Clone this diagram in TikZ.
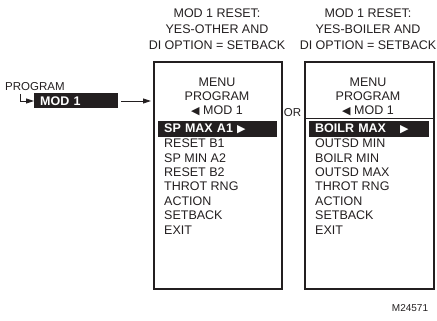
\documentclass[tikz,border=0pt]{standalone}
\usepackage{fontspec}
\setmainfont{Liberation Sans}
\newfontfamily\symf{DejaVu Sans}
\usetikzlibrary{arrows.meta}
\definecolor{ink}{HTML}{231F20}
\newcommand{\tril}{{\symf\fontsize{11}{11}\selectfont ◀}}
\newcommand{\trir}{{\symf\fontsize{11}{11}\selectfont ▶}}
\begin{document}
\begin{tikzpicture}[x=1pt,y=-1pt,
  every node/.style={inner sep=0pt, text=ink},
  txt/.style={font=\fontsize{12.5}{16}\selectfont},
  hdr/.style={txt, align=center},
  item/.style={txt, anchor=base west},
  menubox/.style={draw=ink, line width=2.4pt, anchor=north west},
  hibar/.style={fill=ink, text=white, font=\fontsize{12.5}{16}\selectfont\bfseries,
     anchor=west, minimum height=16pt, inner xsep=6pt, align=left},
  arr/.style={draw=ink, line width=0.9pt, -{Triangle[length=8pt,width=5pt]}},
  thin/.style={draw=ink, line width=0.9pt}
]
\useasboundingbox (0,0) rectangle (437,321);

% headers
\node[hdr] (h1) at (217,29) {MOD 1 RESET:\\YES-OTHER AND\\DI OPTION = SETBACK};
\node[hdr] (h2) at (368,29) {MOD 1 RESET:\\YES-BOILER AND\\DI OPTION = SETBACK};

% boxes
\node[menubox, minimum width=128pt, minimum height=227pt] (lbox) at (153,61) {};
\node[menubox, minimum width=129pt, minimum height=227pt] (rbox) at (304,61) {};

% left entry
\node[font=\fontsize{11.5}{14}\selectfont, anchor=base west] (prog) at (5,91) {PROGRAM};
\node[hibar, text width=72pt, minimum height=15pt] (modbar) at (34,101) {MOD 1};
\coordinate (elb) at (20,94);
\draw[arr] (elb) |- (modbar.west);
\draw[arr, shorten >=2pt] ([xshift=3pt]modbar.east) -- (modbar.east -| lbox.west);

% left box content
\node[hdr] (lm1) at (217,82) {MENU};
\node[hdr] (lm2) at (217,96) {PROGRAM};
\node[hdr] (lm3) at (217,110.5) {\tril\ MOD 1};
\node[hibar, text width=107pt] (lhi) at (158,129) {SP MAX A1 \trir};
\node[item] (l2) at (164,147.5) {RESET B1};
\node[item] (l3) at (164,162) {SP MIN A2};
\node[item] (l4) at (164,176.4) {RESET B2};
\node[item] (l5) at (164,190.8) {THROT RNG};
\node[item] (l6) at (164,205.2) {ACTION};
\node[item] (l7) at (164,219.6) {SETBACK};
\node[item] (l8) at (164,234) {EXIT};

% OR
\node[font=\fontsize{11.5}{14}\selectfont] (or) at (292.5,113) {OR};

% right box content
\node[hdr] (rm1) at (368,82) {MENU};
\node[hdr] (rm2) at (368,96) {PROGRAM};
\node[hdr] (rm3) at (368,110.5) {\tril\ MOD 1};
\coordinate (dv0) at (0,118.5);
\draw[thin] (rbox.west |- dv0) -- (rbox.east |- dv0);
\node[hibar, text width=108pt] (rhi) at (309,129) {BOILR MAX\hspace{14pt}\trir};
\node[item] (r2) at (315,147.5) {OUTSD MIN};
\node[item] (r3) at (315,162) {BOILR MIN};
\node[item] (r4) at (315,176.4) {OUTSD MAX};
\node[item] (r5) at (315,190.8) {THROT RNG};
\node[item] (r6) at (315,205.2) {ACTION};
\node[item] (r7) at (315,219.6) {SETBACK};
\node[item] (r8) at (315,234) {EXIT};

% figure id
\node[font=\fontsize{10}{12}\selectfont] (fid) at (410,308) {M24571};
\end{tikzpicture}
\end{document}
